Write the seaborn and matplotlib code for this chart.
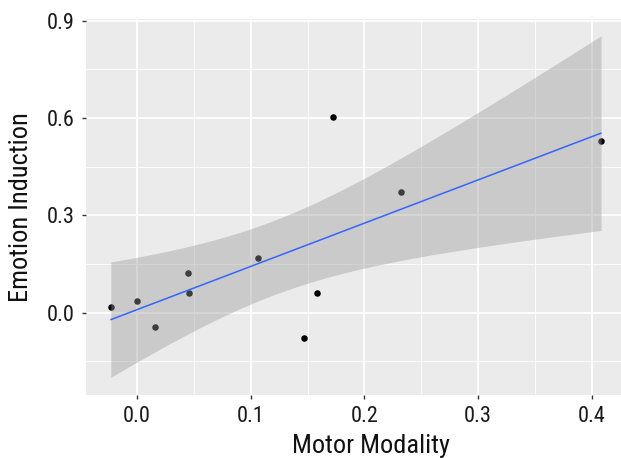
import numpy as np
import pandas as pd
import seaborn as sns
import matplotlib.pyplot as plt

# Datos
motor_modality = [-0.023, 0.000, 0.016, 0.045, 0.046, 0.106, 0.172, 0.147, 0.158, 0.232, 0.408]
emotion_induction = [0.018, 0.035, -0.045, 0.123, 0.060, 0.168, 0.604, -0.079, 0.060, 0.372, 0.530]

df = pd.DataFrame({"Motor Modality": motor_modality, "Emotion Induction": emotion_induction})

sns.set_theme(style="darkgrid")
plt.rcParams['font.family'] = ['Roboto Condensed', 'DejaVu Sans']

fig = plt.figure(figsize=(6.21, 4.58), dpi=100)
ax = fig.add_axes([86 / 621, 1 - 395 / 458, 1 - 86 / 621, 376 / 458])
ax.set_facecolor("#EBEBEB")

# Puntos
sns.scatterplot(data=df, x="Motor Modality", y="Emotion Induction", color="black",
                s=22, linewidth=0, ax=ax, zorder=3)

# Ajuste lineal con intervalo de confianza del 95% (t, gl = n - 2)
x = df["Motor Modality"].to_numpy()
y = df["Emotion Induction"].to_numpy()
n = len(x)
slope, intercept = np.polyfit(x, y, 1)
grid = np.linspace(x.min(), x.max(), 80)
fit = intercept + slope * grid
resid = y - (intercept + slope * x)
s_err = np.sqrt(np.sum(resid ** 2) / (n - 2))
se = s_err * np.sqrt(1 / n + (grid - x.mean()) ** 2 / np.sum((x - x.mean()) ** 2))
t_val = 2.262
ax.fill_between(grid, fit - t_val * se, fit + t_val * se, color="#999999", alpha=0.4,
                linewidth=0, zorder=4)
sns.lineplot(x=grid, y=fit, color="#3366FF", linewidth=1.1, ax=ax, zorder=5)

# Ejes y rejilla
ax.set_xlim(-0.0448, 0.4255)
ax.set_ylim(-0.2538, 0.9056)
ax.set_xticks([0.0, 0.1, 0.2, 0.3, 0.4])
ax.set_yticks([0.0, 0.3, 0.6, 0.9])
ax.set_xticks([0.05, 0.15, 0.25, 0.35], minor=True)
ax.set_yticks([-0.15, 0.15, 0.45, 0.75], minor=True)
ax.set_xticklabels(["0.0", "0.1", "0.2", "0.3", "0.4"])
ax.set_yticklabels(["0.0", "0.3", "0.6", "0.9"])
ax.grid(which="major", color="white", linewidth=1.3)
ax.grid(which="minor", color="white", linewidth=0.6)
ax.tick_params(which="major", length=3, width=1, color="#333333", labelsize=16,
               labelcolor="#1A1A1A", pad=5, bottom=True, left=True)
ax.tick_params(which="minor", length=0)
for side in ax.spines.values():
    side.set_visible(False)

ax.set_xlabel("Motor Modality", fontsize=19, color="#111111", va="baseline")
ax.set_ylabel("Emotion Induction", fontsize=19, color="#111111", va="baseline")
ax.xaxis.set_label_coords((371.5 - 86) / 535, (395 - 453) / 376)
ax.yaxis.set_label_coords((28 - 86) / 535, 0.5)

fig.savefig("out.png", dpi=100)
